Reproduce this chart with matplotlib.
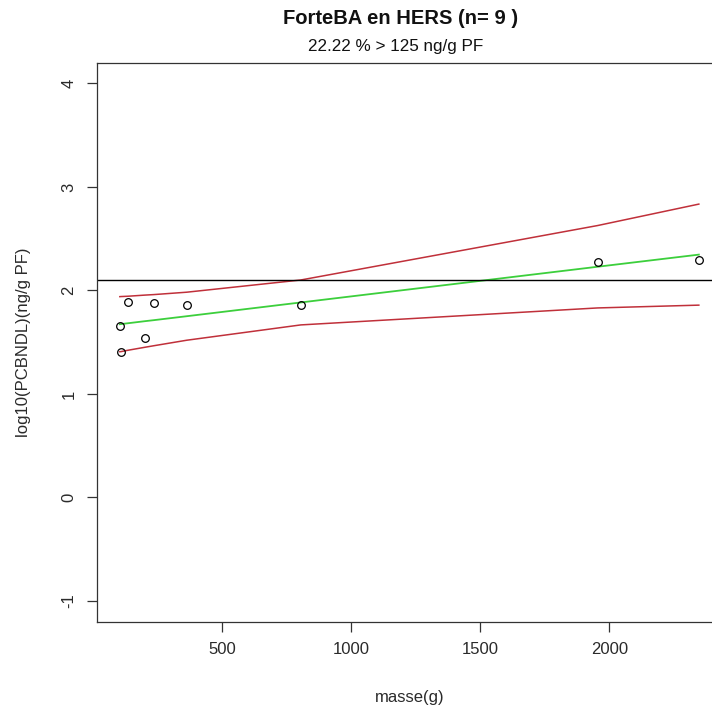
import matplotlib
matplotlib.use("Agg")
import matplotlib.pyplot as plt

plt.rcParams['font.family'] = ['Liberation Sans', 'DejaVu Sans']

# observed points (masse in g, log10 PCBNDL)
masse = [104, 108, 135, 201, 236, 363, 805, 1955, 2347]
log_pcb = [1.658, 1.41, 1.884, 1.545, 1.874, 1.855, 1.855, 2.278, 2.297]

# fitted line and band read at each observed mass
fit = [1.674, 1.675, 1.683, 1.703, 1.713, 1.751, 1.884, 2.229, 2.346]
upper = [1.940, 1.941, 1.944, 1.955, 1.960, 1.983, 2.101, 2.627, 2.834]
lower = [1.408, 1.409, 1.422, 1.451, 1.466, 1.519, 1.667, 1.831, 1.858]

seuil = 2.0969  # log10(125)
title = "ForteBA en HERS (n= 9 )"
subtitle = "22.22 % > 125 ng/g PF"
x_ticks = [500, 1000, 1500, 2000]
y_ticks = [-1, 0, 1, 2, 3, 4]

fig = plt.figure(figsize=(7.12, 7.10), dpi=100)
ax = fig.add_axes([96.7 / 712, 88.3 / 710, (722 - 96.7) / 712, (621.7 - 62.7) / 710])

ax.plot(masse, upper, color='#c0303a', lw=1.1)
ax.plot(masse, lower, color='#c0303a', lw=1.1)
ax.plot(masse, fit, color='#3ccf3c', lw=1.3)
ax.axhline(seuil, color='black', lw=1.0)
ax.plot(masse, log_pcb, 'o', mfc='none', mec='black', ms=5.5, mew=0.9)

rng = max(masse) - min(masse)
ax.set_xlim(min(masse) - 0.04 * rng, max(masse) + 0.04 * rng)
ax.set_ylim(-1.2, 4.2)
ax.set_xticks(x_ticks)
ax.set_yticks(y_ticks)
ax.set_yticklabels([str(v) for v in y_ticks], rotation=90, va='center')
ax.tick_params(direction='out', length=7.5, width=0.9, colors='#333333',
               labelsize=12, pad=7, labelcolor='#2a2a2a')

for sp in ax.spines.values():
    sp.set_linewidth(0.9)
    sp.set_color('#333333')

ax.set_xlabel("masse(g)", fontsize=12, labelpad=24, color='#2a2a2a')
ax.set_ylabel("log10(PCBNDL)(ng/g PF)", fontsize=12, labelpad=22, color='#2a2a2a')

fig.text(401 / 712, 1 - 18 / 710, title, ha='center', va='center',
         fontsize=14.5, fontweight='bold', color='#111111')
fig.text(396 / 712, 1 - 46 / 710, subtitle, ha='center', va='center',
         fontsize=12.3, color='#111111')

fig.savefig("out.png", dpi=100)
